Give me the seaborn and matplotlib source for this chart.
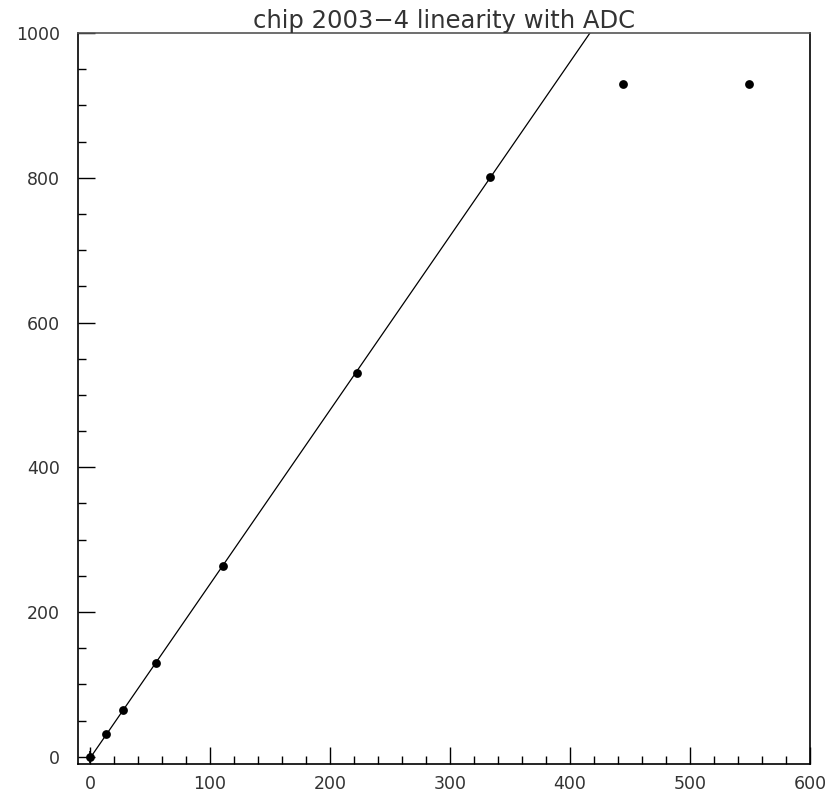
import numpy as np
import pandas as pd
import matplotlib
matplotlib.use("Agg")
import matplotlib.pyplot as plt
from matplotlib.ticker import MultipleLocator
import seaborn as sns

# Injected charge vs. ADC response
charge = [0.0, 13.7, 27.6, 55.2, 111.0, 222.5, 333.3, 444.4, 549.4]
adc = [0.0, 32.0, 64.0, 130.0, 263.0, 530.0, 801.0, 929.0, 929.0]
adc_err = [8.0, 0, 0, 0, 0, 0, 0, 0, 0]

# Linear fit over the unsaturated range
fit_slope = 2.405
fit_offset = -2.0
fit_range = [0.0, 450.0]

title = "chip 2003\u22124 linearity with ADC"

sns.set_theme(style="white")
plt.rcParams["font.family"] = ["DejaVu Sans"]

df = pd.DataFrame({"charge": charge, "adc": adc})

fig = plt.figure(figsize=(8.30, 7.94), dpi=100)
ax = fig.add_axes([78 / 830, 1 - 764 / 794, (810 - 78) / 830, (764 - 33) / 794])

fx = np.array(fit_range)
sns.lineplot(x=fx, y=fit_offset + fit_slope * fx, ax=ax, color="black",
             linewidth=0.9, zorder=2)
ax.errorbar(charge, adc, yerr=adc_err, fmt="none", ecolor="black",
            elinewidth=1.2, zorder=3)
sns.scatterplot(data=df, x="charge", y="adc", ax=ax, color="black", s=40,
                edgecolor="black", linewidth=0, zorder=4)

ax.set_xlim(-10, 600)
ax.set_ylim(-10, 1000)
ax.set_xlabel("")
ax.set_ylabel("")

ax.xaxis.set_major_locator(MultipleLocator(100))
ax.xaxis.set_minor_locator(MultipleLocator(20))
ax.yaxis.set_major_locator(MultipleLocator(200))
ax.yaxis.set_minor_locator(MultipleLocator(50))

ax.tick_params(which="both", direction="in", bottom=True, left=True,
               top=False, right=False, color="black", width=1.0)
ax.tick_params(which="major", length=12, labelsize=12.5, labelcolor="#333333")
ax.tick_params(which="minor", length=6)
ax.tick_params(axis="x", which="major", pad=8)
ax.tick_params(axis="y", which="major", pad=13)

for side, sp in ax.spines.items():
    sp.set_visible(True)
    sp.set_color("black")
    sp.set_linewidth(1.2)
ax.spines["top"].set_color("#555555")

ax.set_title(title, fontsize=17.5, color="#333333", pad=2)

fig.savefig("out.png", dpi=100)
